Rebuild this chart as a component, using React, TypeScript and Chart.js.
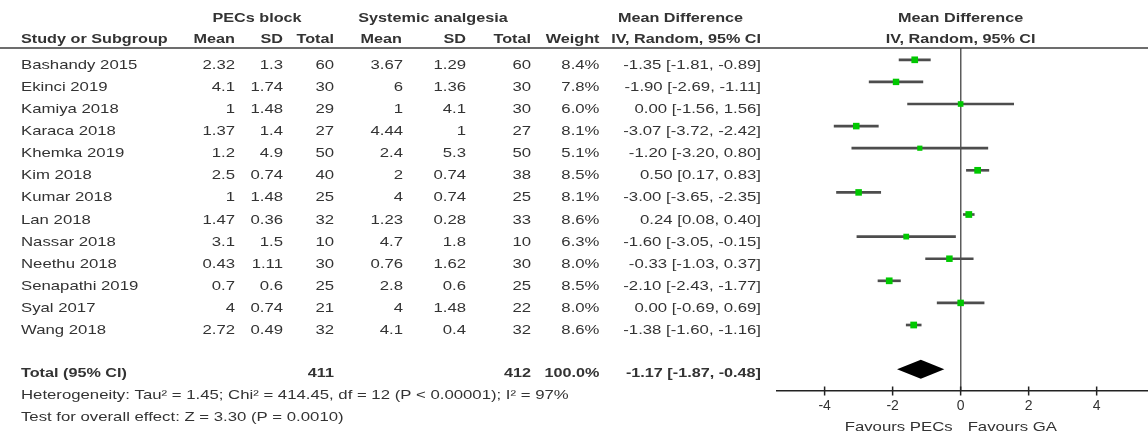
import { useEffect, useRef } from 'react';
import { Chart, registerables } from 'chart.js';

Chart.register(...registerables);

// ---- Study data ----
const studies = [
  'Bashandy 2015', 'Ekinci 2019', 'Kamiya 2018', 'Karaca 2018', 'Khemka 2019', 'Kim 2018',
  'Kumar 2018', 'Lan 2018', 'Nassar 2018', 'Neethu 2018', 'Senapathi 2019', 'Syal 2017', 'Wang 2018',
];
const pecMean = [2.32, 4.1, 1, 1.37, 1.2, 2.5, 1, 1.47, 3.1, 0.43, 0.7, 4, 2.72];
const pecSD = [1.3, 1.74, 1.48, 1.4, 4.9, 0.74, 1.48, 0.36, 1.5, 1.11, 0.6, 0.74, 0.49];
const pecN = [60, 30, 29, 27, 50, 40, 25, 32, 10, 30, 25, 21, 32];
const sysMean = [3.67, 6, 1, 4.44, 2.4, 2, 4, 1.23, 4.7, 0.76, 2.8, 4, 4.1];
const sysSD = [1.29, 1.36, 4.1, 1, 5.3, 0.74, 0.74, 0.28, 1.8, 1.62, 0.6, 1.48, 0.4];
const sysN = [60, 30, 30, 27, 50, 38, 25, 33, 10, 30, 25, 22, 32];
const weights = [8.4, 7.8, 6.0, 8.1, 5.1, 8.5, 8.1, 8.6, 6.3, 8.0, 8.5, 8.0, 8.6];
const meanDiff = [-1.35, -1.9, 0.0, -3.07, -1.2, 0.5, -3.0, 0.24, -1.6, -0.33, -2.1, 0.0, -1.38];
const ciLow = [-1.81, -2.69, -1.56, -3.72, -3.2, 0.17, -3.65, 0.08, -3.05, -1.03, -2.43, -0.69, -1.6];
const ciHigh = [-0.89, -1.11, 1.56, -2.42, 0.8, 0.83, -2.35, 0.4, -0.15, 0.37, -1.77, 0.69, -1.16];

// ---- Pooled result ----
const totalPec = 411;
const totalSys = 412;
const totalWeight = 100.0;
const totalMD = -1.17;
const totalLow = -1.87;
const totalHigh = -0.48;
const heterogeneityText = 'Heterogeneity: Tau\u00B2 = 1.45; Chi\u00B2 = 414.45, df = 12 (P < 0.00001); I\u00B2 = 97%';
const overallText = 'Test for overall effect: Z = 3.30 (P = 0.0010)';

// ---- Axis ----
const tickValues = [-4, -2, 0, 2, 4];
const leftFavours = 'Favours PECs';
const rightFavours = 'Favours GA';

// ---- Layout ----
const W = 1148;
const H = 433;
const INK = '#333333';
const FONT = '"Liberation Sans", Arial, sans-serif';
const TEXT_SIZE = 13.5;
const REG_STRETCH = 1.24;
const BOLD_STRETCH = 1.2;
const totalRow = studies.length + 1;

const colRight = {
  pecMean: 235, pecSD: 283, pecN: 334,
  sysMean: 403, sysSD: 466, sysN: 531,
  weight: 599.5, ci: 761,
};
const studyLeft = 21;

const fmtCI = (m: number, lo: number, hi: number) =>
  `${m.toFixed(2)} [${lo.toFixed(2)}, ${hi.toFixed(2)}]`;

// square side grows with study weight
const boxSide = (w: number) => 2.3 * Math.sqrt(w);

type Align = 'left' | 'right' | 'center';

function drawText(ctx: CanvasRenderingContext2D, text: string, x: number, y: number, align: Align, bold = false) {
  ctx.save();
  ctx.font = `${bold ? 'bold ' : ''}${TEXT_SIZE}px ${FONT}`;
  const sx = bold ? BOLD_STRETCH : REG_STRETCH;
  const w = ctx.measureText(text).width * sx;
  let left = x;
  if (align === 'right') left = x - w;
  else if (align === 'center') left = x - w / 2;
  ctx.translate(left, y);
  ctx.scale(sx, 1);
  ctx.textAlign = 'left';
  ctx.textBaseline = 'alphabetic';
  ctx.fillStyle = INK;
  ctx.fillText(text, 0, 0);
  ctx.restore();
}

const forestPlugin = {
  id: 'forestTable',
  afterDatasetsDraw(chart: any) {
    const { ctx, scales } = chart;
    const xs = scales.x;
    const ys = scales.y;
    // pooled diamond
    const yc = ys.getPixelForValue(totalRow);
    const l = xs.getPixelForValue(totalLow);
    const c = xs.getPixelForValue(totalMD);
    const r = xs.getPixelForValue(totalHigh);
    ctx.save();
    ctx.fillStyle = '#000000';
    ctx.beginPath();
    ctx.moveTo(l, yc);
    ctx.lineTo(c, yc - 9.5);
    ctx.lineTo(r, yc);
    ctx.lineTo(c, yc + 9.5);
    ctx.closePath();
    ctx.fill();
    ctx.restore();
  },
  afterDraw(chart: any) {
    const { ctx, scales, chartArea } = chart;
    const xs = scales.x;
    const ys = scales.y;

    // tick marks crossing the axis line
    ctx.save();
    ctx.strokeStyle = '#222222';
    ctx.lineWidth = 1.5;
    for (const t of xs.ticks) {
      const px = xs.getPixelForValue(t.value);
      ctx.beginPath();
      ctx.moveTo(px, chartArea.bottom - 4.5);
      ctx.lineTo(px, chartArea.bottom + 4.5);
      ctx.stroke();
    }
    // header rule
    ctx.strokeStyle = '#3c3c3c';
    ctx.lineWidth = 1.6;
    ctx.beginPath();
    ctx.moveTo(0, chartArea.top);
    ctx.lineTo(W, chartArea.top);
    ctx.stroke();
    ctx.restore();

    // headers
    const h1 = 21.5;
    const h2 = 43;
    const zeroX = xs.getPixelForValue(0);
    drawText(ctx, 'PECs block', 257, h1, 'center', true);
    drawText(ctx, 'Systemic analgesia', 433, h1, 'center', true);
    drawText(ctx, 'Mean Difference', 680.5, h1, 'center', true);
    drawText(ctx, 'Mean Difference', zeroX, h1, 'center', true);
    drawText(ctx, 'Study or Subgroup', studyLeft, h2, 'left', true);
    drawText(ctx, 'Mean', colRight.pecMean, h2, 'right', true);
    drawText(ctx, 'SD', colRight.pecSD, h2, 'right', true);
    drawText(ctx, 'Total', colRight.pecN, h2, 'right', true);
    drawText(ctx, 'Mean', colRight.sysMean - 1, h2, 'right', true);
    drawText(ctx, 'SD', colRight.sysSD, h2, 'right', true);
    drawText(ctx, 'Total', colRight.sysN, h2, 'right', true);
    drawText(ctx, 'Weight', colRight.weight, h2, 'right', true);
    drawText(ctx, 'IV, Random, 95% CI', colRight.ci, h2, 'right', true);
    drawText(ctx, 'IV, Random, 95% CI', zeroX, h2, 'center', true);

    // study rows
    studies.forEach((name, i) => {
      const y = ys.getPixelForValue(i) + 9;
      drawText(ctx, name, studyLeft, y, 'left');
      drawText(ctx, String(pecMean[i]), colRight.pecMean, y, 'right');
      drawText(ctx, String(pecSD[i]), colRight.pecSD, y, 'right');
      drawText(ctx, String(pecN[i]), colRight.pecN, y, 'right');
      drawText(ctx, String(sysMean[i]), colRight.sysMean, y, 'right');
      drawText(ctx, String(sysSD[i]), colRight.sysSD, y, 'right');
      drawText(ctx, String(sysN[i]), colRight.sysN, y, 'right');
      drawText(ctx, `${weights[i].toFixed(1)}%`, colRight.weight, y, 'right');
      drawText(ctx, fmtCI(meanDiff[i], ciLow[i], ciHigh[i]), colRight.ci, y, 'right');
    });

    // pooled row
    const ty = ys.getPixelForValue(totalRow) + 8;
    drawText(ctx, 'Total (95% CI)', studyLeft, ty, 'left', true);
    drawText(ctx, String(totalPec), colRight.pecN, ty, 'right', true);
    drawText(ctx, String(totalSys), colRight.sysN, ty, 'right', true);
    drawText(ctx, `${totalWeight.toFixed(1)}%`, colRight.weight, ty, 'right', true);
    drawText(ctx, fmtCI(totalMD, totalLow, totalHigh), colRight.ci, ty, 'right', true);
    drawText(ctx, heterogeneityText, studyLeft, ty + 22, 'left');
    drawText(ctx, overallText, studyLeft, ty + 44, 'left');

    // favours labels
    drawText(ctx, leftFavours, zeroX - 8, 430.5, 'right');
    drawText(ctx, rightFavours, zeroX + 7, 430.5, 'left');
  },
};

export default function App() {
  const ref = useRef<HTMLCanvasElement>(null);

  useEffect(() => {
    if (!ref.current) return;
    const chart = new Chart(ref.current, {
      type: 'scatter',
      data: {
        datasets: [
          {
            type: 'scatter',
            data: meanDiff.map((v, i) => ({ x: v, y: i })),
            pointStyle: 'rect',
            pointRadius: weights.map((w) => boxSide(w) / Math.SQRT2),
            pointHoverRadius: weights.map((w) => boxSide(w) / Math.SQRT2),
            backgroundColor: '#00c800',
            borderWidth: 0,
          },
          {
            type: 'bar',
            indexAxis: 'y',
            data: ciLow.map((lo, i) => ({ x: [lo, ciHigh[i]], y: i })),
            backgroundColor: '#4d4d4d',
            barThickness: 2,
            borderWidth: 0,
            borderSkipped: false,
          } as any,
        ],
      },
      options: {
        responsive: false,
        animation: false,
        devicePixelRatio: 1,
        events: [],
        layout: { autoPadding: false, padding: { left: 777, right: 0, top: 48, bottom: 0 } },
        plugins: { legend: { display: false }, tooltip: { enabled: false } },
        scales: {
          x: {
            type: 'linear',
            min: -5.4,
            max: 5.51,
            afterBuildTicks: (s: any) => {
              s.ticks = tickValues.map((v) => ({ value: v }));
            },
            afterFit: (s: any) => {
              s.height = 42;
            },
            grid: {
              drawTicks: false,
              lineWidth: 1.5,
              color: (c: any) => (c.tick && c.tick.value === 0 ? '#5c5c5c' : 'rgba(0,0,0,0)'),
            },
            border: { display: true, color: '#222222', width: 1.5 },
            ticks: {
              color: INK,
              font: { family: FONT, size: 14 },
              padding: 7,
              maxRotation: 0,
              autoSkip: false,
            },
          },
          y: {
            type: 'linear',
            reverse: true,
            min: -0.534,
            max: 14.986,
            display: false,
            offset: false,
            grid: { offset: false },
          },
        },
      } as any,
      plugins: [forestPlugin],
    });
    return () => chart.destroy();
  }, []);

  return (
    <div style={{ position: 'fixed', left: 0, top: 0, width: W, height: H, background: '#ffffff' }}>
      <canvas ref={ref} width={W} height={H} style={{ display: 'block', width: W, height: H }} />
    </div>
  );
}
